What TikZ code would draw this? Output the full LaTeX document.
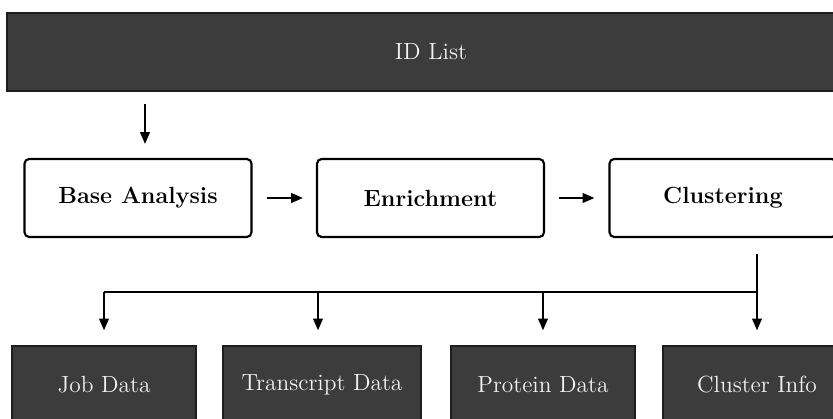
\documentclass[tikz,border=0pt]{standalone}
\usetikzlibrary{arrows.meta}
\def\pxu{0.47pt}
\definecolor{boxdark}{HTML}{3C3C3C}
\definecolor{boxedge}{HTML}{1E1E1E}
\definecolor{boxtext}{HTML}{F2F2F2}
\tikzset{
  darkbox/.style={draw=boxedge, line width=0.6pt, fill=boxdark, text=boxtext, inner sep=0pt, minimum height=78*\pxu, font=\fontsize{11}{13}\selectfont},
  stagebox/.style={draw=black, line width=1pt, rounded corners=2.2pt, fill=white, inner sep=0pt, minimum height=78*\pxu, minimum width=227*\pxu, font=\fontsize{11}{13}\selectfont\bfseries},
  conn/.style={draw=black, line width=0.9pt},
  arr/.style={conn, -{Triangle[length=5.5pt,width=4.5pt]}}
}
\begin{document}
\begin{tikzpicture}[x=0.47pt,y=-0.47pt]
\clip (0,0) rectangle (833,419);
\fill[white] (0,0) rectangle (833,419);
% top bar
\node[darkbox, line width=1pt, minimum width=848*\pxu] (idlist) at (431,52) {ID List};
% stages
\node[stagebox] (base) at (138,198) {Base Analysis};
\node[stagebox] (enrich) at (430.5,198) {Enrichment};
\node[stagebox] (clust) at (723,198) {Clustering};
% outputs
\node[darkbox, minimum width=184*\pxu] (job) at (104,385) {Job Data};
\node[darkbox, minimum width=198*\pxu] (trans) at (322,385) {Transcript Data};
\node[darkbox, minimum width=184*\pxu] (prot) at (543,385) {Protein Data};
\node[darkbox, minimum width=188*\pxu] (clinfo) at (757,385) {Cluster Info};
% connectors
\coordinate (inx) at (145,0);
\draw[arr, shorten <=12*\pxu, shorten >=14*\pxu] (idlist.south -| inx) -- (base.north -| inx);
\draw[arr, shorten <=14*\pxu, shorten >=13*\pxu] (base.east) -- (enrich.west);
\draw[arr, shorten <=14*\pxu, shorten >=14*\pxu] (enrich.east) -- (clust.west);
\coordinate (hub) at (757,292);
\coordinate (tx) at (318,0);
\draw[conn, shorten <=16*\pxu] (clust.south -| hub) -- (hub);
\draw[conn] (hub) -- (hub -| job.north);
\draw[arr, shorten >=15*\pxu] (hub -| job.north) -- (job.north);
\draw[arr, shorten >=15*\pxu] (hub -| tx) -- (trans.north -| tx);
\draw[arr, shorten >=15*\pxu] (hub -| prot.north) -- (prot.north);
\draw[arr, shorten >=15*\pxu] (hub) -- (clinfo.north);
\end{tikzpicture}
\end{document}
